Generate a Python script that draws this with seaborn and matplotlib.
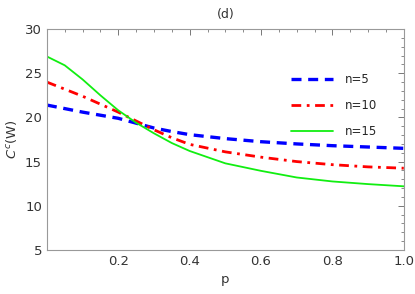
import numpy as np
import pandas as pd
import matplotlib
matplotlib.use('Agg')
import matplotlib.pyplot as plt
import seaborn as sns
from matplotlib.ticker import MultipleLocator

# valores
p = [0.0, 0.05, 0.1, 0.15, 0.2, 0.25, 0.3, 0.35, 0.4, 0.5, 0.6, 0.7, 0.8, 0.9, 1.0]
c_n5 = [21.4, 21.0, 20.6, 20.25, 19.9, 19.35, 18.8, 18.4, 18.05, 17.6, 17.25, 17.0, 16.8, 16.65, 16.5]
c_n10 = [24.0, 23.2, 22.4, 21.5, 20.6, 19.6, 18.6, 17.7, 16.95, 16.1, 15.5, 15.0, 14.65, 14.4, 14.25]
c_n15 = [26.9, 25.9, 24.3, 22.5, 20.8, 19.4, 18.2, 17.1, 16.2, 14.8, 13.95, 13.2, 12.75, 12.45, 12.2]
etiquetas = ['n=5', 'n=10', 'n=15']

df = pd.DataFrame({
    'p': p * 3,
    'C': c_n5 + c_n10 + c_n15,
    'serie': [etiquetas[0]] * len(p) + [etiquetas[1]] * len(p) + [etiquetas[2]] * len(p),
})

sns.set_theme(style='white')
plt.rcParams['font.family'] = ['DejaVu Sans']

fig = plt.figure(figsize=(4.15, 2.94), dpi=100)
ax = fig.add_axes([0.113, 0.150, 0.860, 0.751])

colores = {'n=5': '#0000ff', 'n=10': '#ff0000', 'n=15': '#11ee11'}
sns.lineplot(data=df, x='p', y='C', hue='serie', palette=colores, ax=ax, legend=False)

estilos = [dict(ls=(0, (3, 2)), lw=2.4), dict(ls=(0, (3.5, 2, 1, 2)), lw=2.0), dict(ls='-', lw=1.3)]
for linea, st, lab in zip(ax.get_lines(), estilos, etiquetas):
    linea.set_linestyle(st['ls'])
    linea.set_linewidth(st['lw'])
    linea.set_label(lab)

ax.legend(loc='upper right', bbox_to_anchor=(0.955, 0.85), frameon=False, fontsize=8.5,
          handlelength=3.6, labelspacing=1.1, handletextpad=1.0)

ax.set_xlim(0, 1.0)
ax.set_ylim(5, 30)
ax.xaxis.set_minor_locator(MultipleLocator(0.05))
ax.yaxis.set_major_locator(MultipleLocator(5))
ax.yaxis.set_minor_locator(MultipleLocator(1))
ax.set_xticks([0.2, 0.4, 0.6, 0.8, 1.0])
ax.set_xticklabels(['0.2', '0.4', '0.6', '0.8', '1.0'])

ax.tick_params(which='both', direction='in', top=True, right=True, colors='#777777',
               labelcolor='#333333', labelsize=9.5)
ax.tick_params(which='major', length=4, width=0.7)
ax.tick_params(which='minor', length=2, width=0.6)
for s in ax.spines.values():
    s.set_color('#999999')
    s.set_linewidth(0.8)

ax.set_title('(d)', fontsize=9, color='#333333', pad=8)
ax.set_xlabel('p', fontsize=9.5, color='#333333', labelpad=4)
ax.set_ylabel('$C^c$(W)', fontsize=9.5, color='#333333', labelpad=4)

plt.savefig('out.png', dpi=100)
